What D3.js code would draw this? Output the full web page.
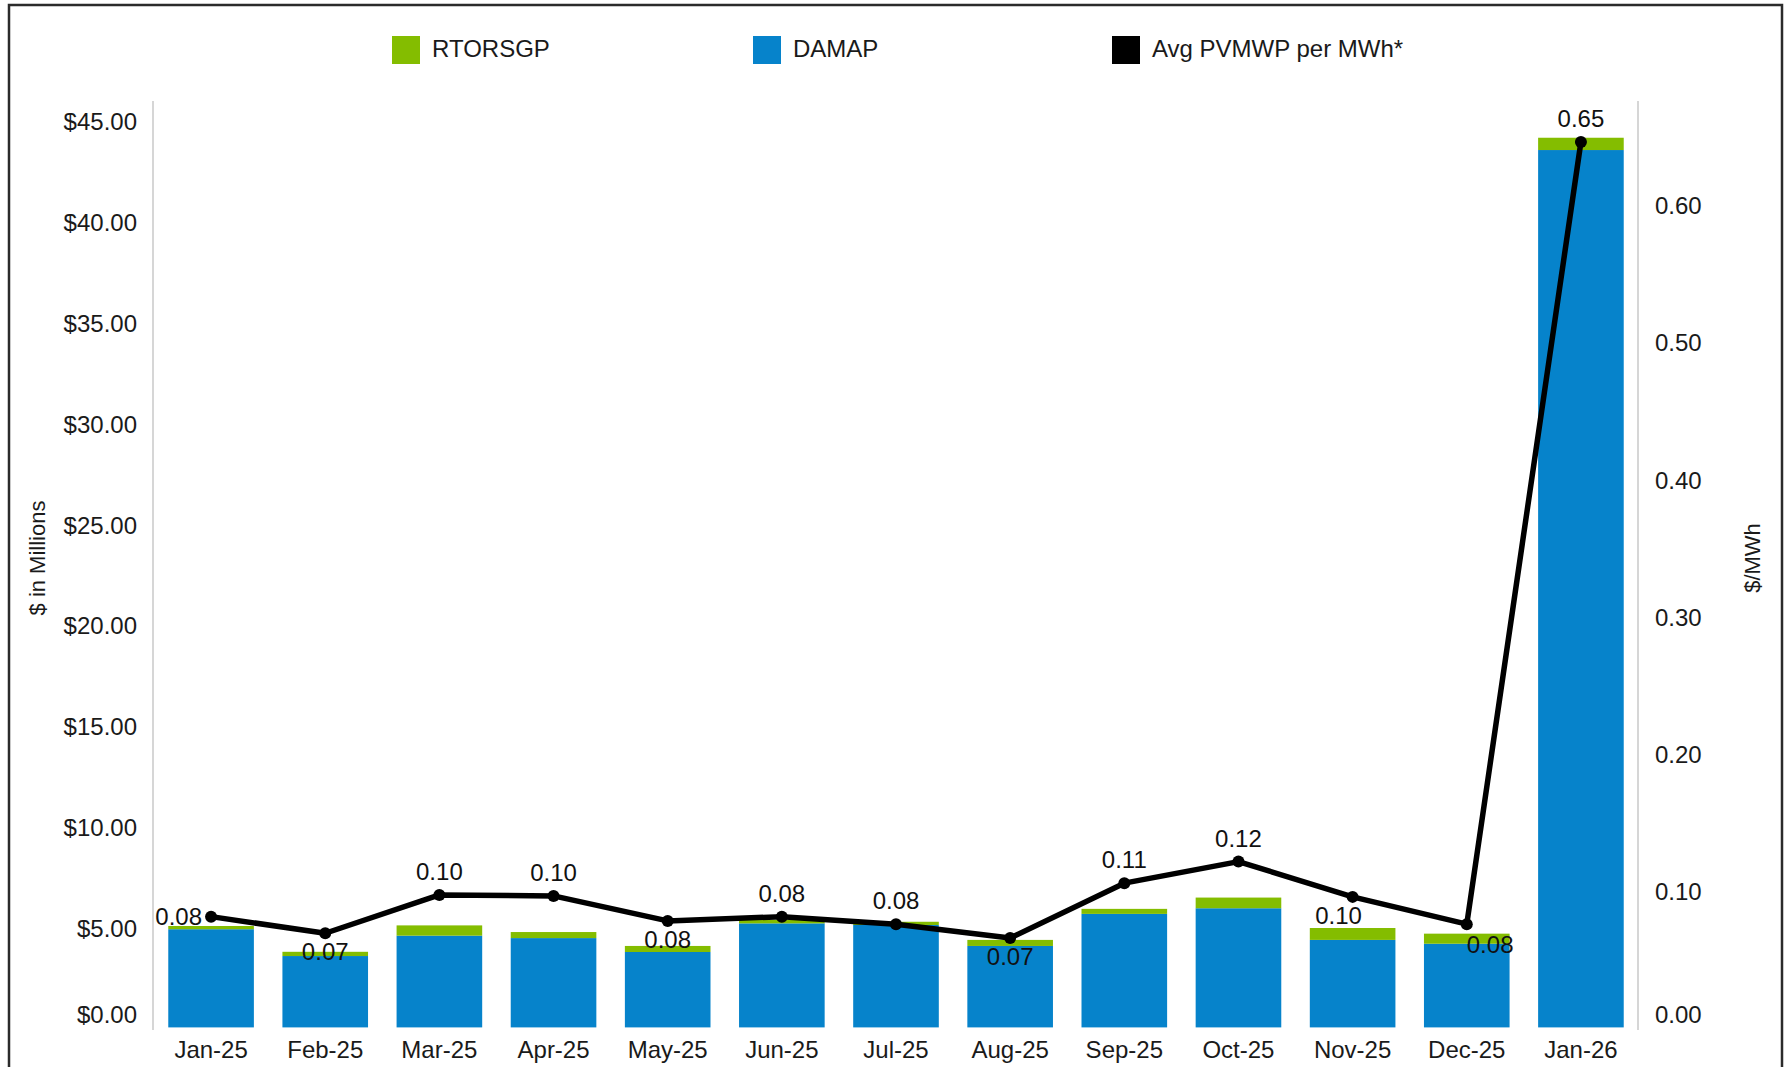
<!DOCTYPE html>
<html>
<head>
<meta charset="utf-8">
<script src="https://cdn.jsdelivr.net/npm/d3@7"></script>
<style>
  html, body { margin: 0; padding: 0; background: #fff; }
  svg { display: block; font-family: "Liberation Sans", Arial, sans-serif; }
</style>
</head>
<body>
<svg id="chart" width="1786" height="1067"></svg>
<script>
// ---- data ----
const months = ["Jan-25","Feb-25","Mar-25","Apr-25","May-25","Jun-25","Jul-25","Aug-25","Sep-25","Oct-25","Nov-25","Dec-25","Jan-26"];
const damap = [4.87, 3.54, 4.55, 4.43, 3.74, 5.16, 5.08, 4.04, 5.63, 5.91, 4.34, 4.15, 43.52];
const rtorsgp = [0.16, 0.21, 0.51, 0.30, 0.30, 0.17, 0.16, 0.30, 0.25, 0.53, 0.59, 0.50, 0.61];
const avgPvmwp = [0.0807, 0.0686, 0.0965, 0.0958, 0.0776, 0.0807, 0.0751, 0.0651, 0.1051, 0.1208, 0.0951, 0.0752, 0.6451];
const labelPlacement = ["left","below","above","above","below","above","above","below","above","above","belowLeft","belowRight","above"];
const leftTicks = [0, 5, 10, 15, 20, 25, 30, 35, 40, 45];
const rightTicks = [0, 0.1, 0.2, 0.3, 0.4, 0.5, 0.6];
const seriesNames = ["RTORSGP", "DAMAP", "Avg PVMWP per MWh*"];
const leftTitle = "$ in Millions";
const rightTitle = "$/MWh";

// ---- styles ----
const colGreen = "#84bd00";
const colBlue = "#0683cb";
const colLine = "#000000";
const textCol = "#1a1a1a";

const svg = d3.select("#chart");

// outer frame
svg.append("rect").attr("x", 9).attr("y", 5).attr("width", 1773).attr("height", 1080)
  .attr("fill", "none").attr("stroke", "#2b2b2b").attr("stroke-width", 2.5);

const plotL = 154, plotR = 1638, plotTop = 120.2, plotBot = 1027.4;

const x = d3.scaleBand().domain(months).range([plotL, plotR]).paddingInner(0.25).paddingOuter(0.125);
const yL = d3.scaleLinear().domain([0, 45]).range([plotBot, plotTop]);
const yR = d3.scaleLinear().domain([0, 0.661]).range([plotBot, plotTop]);

// axis lines (vertical)
svg.append("line").attr("x1", plotL - 1).attr("x2", plotL - 1).attr("y1", 101).attr("y2", 1030)
  .attr("stroke", "#c8c8c8").attr("stroke-width", 1.5);
svg.append("line").attr("x1", plotR).attr("x2", plotR).attr("y1", 101).attr("y2", 1030)
  .attr("stroke", "#c8c8c8").attr("stroke-width", 1.5);

// left axis
const axL = d3.axisLeft(yL).tickValues(leftTicks).tickSize(0).tickPadding(0)
  .tickFormat(d => "$" + d.toFixed(2));
const gL = svg.append("g").attr("transform", "translate(137,0)").call(axL);
gL.select(".domain").remove();
gL.selectAll("text").attr("font-size", 24).attr("fill", textCol)
  .attr("font-family", "'Liberation Sans', Arial, sans-serif")
  .attr("dy", d => d === 0 ? "-0.2em" : "0.4em");

// right axis
const axR = d3.axisRight(yR).tickValues(rightTicks).tickSize(0).tickPadding(0)
  .tickFormat(d => d.toFixed(2));
const gR = svg.append("g").attr("transform", "translate(1655,0)").call(axR);
gR.select(".domain").remove();
gR.selectAll("text").attr("font-size", 24).attr("fill", textCol)
  .attr("font-family", "'Liberation Sans', Arial, sans-serif")
  .attr("dy", d => d === 0 ? "-0.2em" : "0.4em");

// bottom axis
const axB = d3.axisBottom(x).tickSize(0).tickPadding(0);
const gB = svg.append("g").attr("transform", "translate(0,1033)").call(axB);
gB.select(".domain").remove();
gB.selectAll("text").attr("font-size", 24).attr("fill", textCol)
  .attr("font-family", "'Liberation Sans', Arial, sans-serif").attr("dy", "1.05em");

// axis titles
svg.append("text").attr("transform", "translate(45,558) rotate(-90)")
  .attr("text-anchor", "middle").attr("font-size", 22).attr("fill", textCol).text(leftTitle);
svg.append("text").attr("transform", "translate(1760,558) rotate(-90)")
  .attr("text-anchor", "middle").attr("font-size", 22).attr("fill", textCol).text(rightTitle);

// stacked bars
const rows = months.map((m, i) => ({ month: m, DAMAP: damap[i], RTORSGP: rtorsgp[i] }));
const stack = d3.stack().keys(["DAMAP", "RTORSGP"])(rows);
const colors = { DAMAP: colBlue, RTORSGP: colGreen };
svg.append("g").selectAll("g").data(stack).join("g")
  .attr("fill", d => colors[d.key])
  .selectAll("rect").data(d => d).join("rect")
  .attr("x", d => x(d.data.month))
  .attr("width", x.bandwidth())
  .attr("y", d => yL(d[1]))
  .attr("height", d => yL(d[0]) - yL(d[1]));

// line
const pts = months.map((m, i) => ({ m, v: avgPvmwp[i], pos: labelPlacement[i] }));
const line = d3.line().x(d => x(d.m) + x.bandwidth() / 2).y(d => yR(d.v));
svg.append("path").datum(pts).attr("d", line).attr("fill", "none")
  .attr("stroke", colLine).attr("stroke-width", 5.5).attr("stroke-linejoin", "round");
svg.append("g").selectAll("circle").data(pts).join("circle")
  .attr("cx", d => x(d.m) + x.bandwidth() / 2).attr("cy", d => yR(d.v)).attr("r", 6)
  .attr("fill", colLine);

// data labels
const off = {
  above: { dx: 0, dy: -15, anchor: "middle" },
  below: { dx: 0, dy: 27, anchor: "middle" },
  left: { dx: -9, dy: 8, anchor: "end" },
  belowLeft: { dx: -14, dy: 27, anchor: "middle" },
  belowRight: { dx: 0, dy: 29, anchor: "start" }
};
svg.append("g").selectAll("text").data(pts).join("text")
  .attr("x", d => x(d.m) + x.bandwidth() / 2 + off[d.pos].dx)
  .attr("y", d => yR(d.v) + off[d.pos].dy)
  .attr("text-anchor", d => off[d.pos].anchor)
  .attr("font-size", 24).attr("fill", "#111")
  .text(d => d.v.toFixed(2));

// legend
const legendItems = [
  { name: seriesNames[0], color: colGreen, x: 392 },
  { name: seriesNames[1], color: colBlue, x: 753 },
  { name: seriesNames[2], color: colLine, x: 1112 }
];
const lg = svg.append("g").selectAll("g").data(legendItems).join("g")
  .attr("transform", d => `translate(${d.x},36)`);
lg.append("rect").attr("width", 28).attr("height", 28).attr("fill", d => d.color);
lg.append("text").attr("x", 40).attr("y", 21).attr("font-size", 24).attr("fill", textCol)
  .text(d => d.name);
</script>
</body>
</html>
